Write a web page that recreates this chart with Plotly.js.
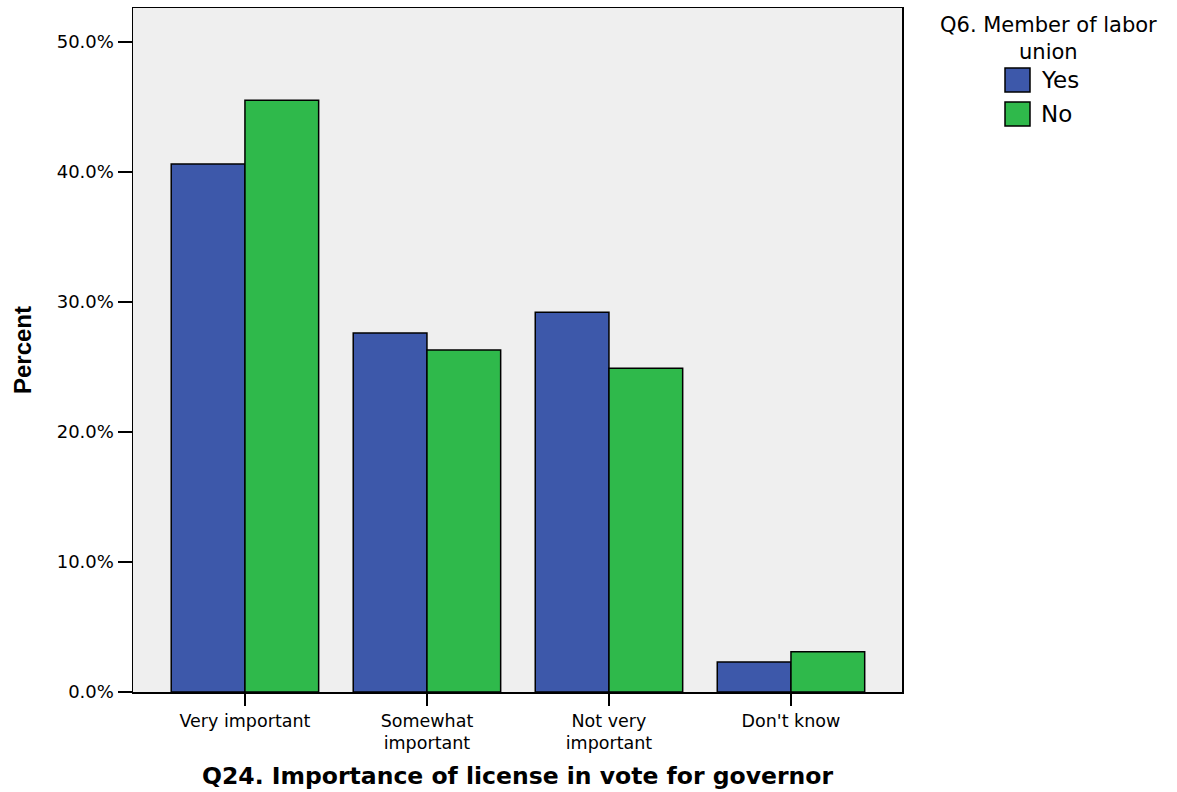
<!DOCTYPE html>
<html>
<head>
<meta charset="utf-8">
<script src="https://cdn.plot.ly/plotly-3.0.1.min.js"></script>
<style>html,body{margin:0;padding:0;background:#fff;}#chart{width:1177px;height:792px;}</style>
</head>
<body>
<div id="chart"></div>
<script>
const categories = ["Very important", "Somewhat<br>important", "Not very<br>important", "Don't know"];
const yesValues = [40.6, 27.6, 29.2, 2.3];
const noValues = [45.5, 26.3, 24.9, 3.1];
const seriesNames = ["Yes", "No"];
const seriesColors = ["#3d58aa", "#2fb94b"];
const legendTitle = "Q6. Member of labor<br>union";
const yTickVals = [0, 10, 20, 30, 40, 50];
const yTickText = ["0.0%", "10.0%", "20.0%", "30.0%", "40.0%", "50.0%"];

const FONT = "DejaVu Sans, Arial, sans-serif";

const L = 133, R = 902, T = 8, B = 692;
const px = x => (x - L) / (R - L);
const py = y => (B - y) / (B - T);

const traces = [yesValues, noValues].map((vals, i) => ({
  type: 'bar',
  name: seriesNames[i],
  x: categories,
  y: vals,
  marker: {color: seriesColors[i], line: {color: '#000', width: 1.5}},
  showlegend: false,
  hoverinfo: 'x+y'
}));

const legendBoxes = [[68, 92], [102, 126]];
const shapes = legendBoxes.map((b, i) => ({
  type: 'rect', xref: 'paper', yref: 'paper',
  x0: px(1005), x1: px(1030), y0: py(b[1]), y1: py(b[0]),
  fillcolor: seriesColors[i], line: {color: '#000', width: 1.5}
}));

const annotations = [{
  xref: 'paper', yref: 'paper', x: px(1048), y: py(38), text: legendTitle,
  showarrow: false, xanchor: 'center', yanchor: 'middle', align: 'center',
  font: {family: FONT, size: 21, color: '#000'}
}].concat(legendBoxes.map((b, i) => ({
  xref: 'paper', yref: 'paper', x: px(1039), y: py((b[0] + b[1]) / 2), text: seriesNames[i],
  showarrow: false, xanchor: 'left', yanchor: 'middle',
  font: {family: FONT, size: 23, color: '#000'}
})));

const layout = {
  width: 1177, height: 792,
  margin: {l: L, r: 1177 - R, t: T, b: 792 - B, pad: 0},
  paper_bgcolor: '#ffffff',
  plot_bgcolor: '#efefef',
  barmode: 'group',
  bargap: 0.19,
  bargroupgap: 0,
  showlegend: false,
  xaxis: {
    range: [-0.615, 3.61],
    showline: true, mirror: true, linecolor: '#000', linewidth: 1.5,
    ticks: 'outside', ticklen: 12, tickwidth: 1.5, tickcolor: '#000',
    showgrid: false, zeroline: false,
    tickfont: {family: FONT, size: 17.5, color: '#000'},
    title: {text: "Q24. Importance of license in vote for governor", standoff: 15,
            font: {family: FONT, size: 23.5, color: '#000', weight: 'bold'}},
    fixedrange: true
  },
  yaxis: {
    range: [0, 52.6],
    tickvals: yTickVals, ticktext: yTickText,
    showline: true, mirror: true, linecolor: '#000', linewidth: 1.5,
    ticks: 'outside', ticklen: 14, tickwidth: 1.5, tickcolor: '#000',
    showgrid: false, zeroline: false,
    tickfont: {family: FONT, size: 18, color: '#000'},
    title: {text: "Percent", standoff: 18,
            font: {family: "Liberation Sans Narrow, Arial Narrow, Arial, sans-serif", size: 24, color: '#000', weight: 'bold'}},
    fixedrange: true
  },
  shapes: shapes,
  annotations: annotations
};

Plotly.newPlot('chart', traces, layout, {displayModeBar: false, staticPlot: true});
</script>
</body>
</html>
